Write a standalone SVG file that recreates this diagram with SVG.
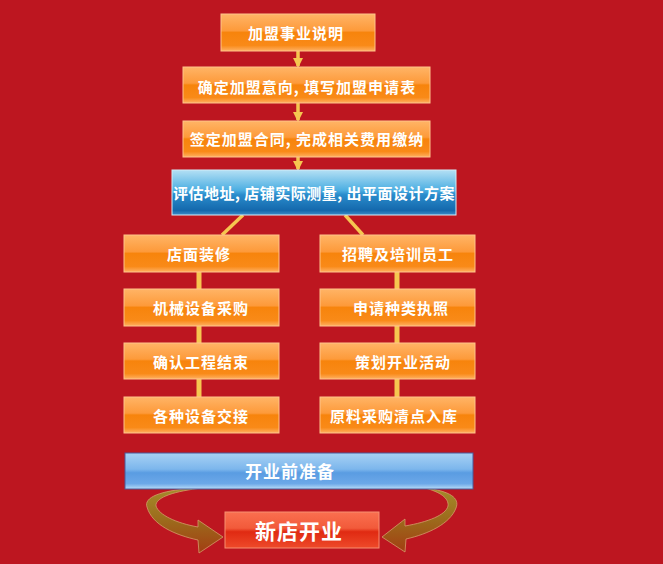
<svg xmlns="http://www.w3.org/2000/svg" width="663" height="564" viewBox="0 0 663 564">
<defs>
<linearGradient id="gOr" x1="0" y1="0" x2="0" y2="1">
<stop offset="0" stop-color="#FFB466"/>
<stop offset="0.45" stop-color="#FD9A3A"/>
<stop offset="0.5" stop-color="#F7840C"/>
<stop offset="0.85" stop-color="#F98A18"/>
<stop offset="1" stop-color="#FFB062"/>
</linearGradient>
<linearGradient id="gBl" x1="0" y1="0" x2="0" y2="1">
<stop offset="0" stop-color="#B4E0F4"/>
<stop offset="0.45" stop-color="#4CAEE2"/>
<stop offset="0.55" stop-color="#2A8CCC"/>
<stop offset="0.9" stop-color="#1468AC"/>
<stop offset="1" stop-color="#3C8CC8"/>
</linearGradient>
<linearGradient id="gBar" x1="0" y1="0" x2="0" y2="1">
<stop offset="0" stop-color="#A8D2F4"/>
<stop offset="0.45" stop-color="#7CB6EC"/>
<stop offset="0.55" stop-color="#5A9CE2"/>
<stop offset="0.85" stop-color="#6CA8E8"/>
<stop offset="1" stop-color="#B8DCF8"/>
</linearGradient>
<linearGradient id="gRd" x1="0" y1="0" x2="0" y2="1">
<stop offset="0" stop-color="#FA7050"/>
<stop offset="0.45" stop-color="#F25A3A"/>
<stop offset="0.55" stop-color="#E02A12"/>
<stop offset="1" stop-color="#EE4A2A"/>
</linearGradient>
<linearGradient id="gRib" x1="0" y1="0" x2="0" y2="1">
<stop offset="0" stop-color="#A48C2A"/>
<stop offset="0.5" stop-color="#9C6A1C"/>
<stop offset="1" stop-color="#A23E12"/>
</linearGradient>
<marker id="ah" viewBox="0 0 10 10" refX="8" refY="5" markerWidth="3" markerHeight="3" orient="auto" markerUnits="strokeWidth">
<path d="M0,0 L10,5 L0,10 Z" fill="#F6C650"/>
</marker>
<style>
.bo{fill:url(#gOr);stroke:#FFC48A;stroke-width:1}
.bb{fill:url(#gBl);stroke:#D0ECF8;stroke-width:1}
.t{font-family:"Noto Sans CJK SC","Liberation Sans",sans-serif;font-weight:bold;fill:#FFFFFF;font-size:15px;text-anchor:middle;dominant-baseline:central;letter-spacing:1px}
.ln{stroke:#F6C650;stroke-width:5;fill:none}
.lt{stroke:#F6C650;stroke-width:3.5;fill:none}
.rib{fill:url(#gRib);stroke:#D49A6A;stroke-width:0.8}
</style>
</defs>
<rect width="663" height="564" fill="#BD1620"/>
<g id="connectors">
<line class="lt" x1="298" y1="51" x2="298" y2="66" marker-end="url(#ah)"/>
<line class="lt" x1="298" y1="103" x2="298" y2="120" marker-end="url(#ah)"/>
<line class="lt" x1="298" y1="157" x2="298" y2="169" marker-end="url(#ah)"/>
<line class="lt" x1="243" y1="215" x2="222" y2="235"/>
<line class="lt" x1="345" y1="215" x2="363" y2="235"/>
<line class="ln" x1="199" y1="272" x2="199" y2="289"/>
<line class="ln" x1="199" y1="326" x2="199" y2="343"/>
<line class="ln" x1="199" y1="379" x2="199" y2="397"/>
<line class="ln" x1="397" y1="272" x2="397" y2="289"/>
<line class="ln" x1="397" y1="326" x2="397" y2="343"/>
<line class="ln" x1="397" y1="379" x2="397" y2="397"/>
<path class="rib" d="M 202,488 C 166,489 143,496 147,507 C 152,525 175,535 198,540 L 199,553 L 223,537 L 198,520 L 198,527 C 176,523 159,515 156,506 C 155,497 176,491 202,488 Z"/>
<path class="rib" d="M 425,488 C 450,491 460,498 456,508 C 450,524 428,534 406,539 L 405,552 L 382,537 L 405,519 L 405,526 C 428,522 446,515 448,506 C 449,498 440,492 425,488 Z"/>
</g>
<g id="n1"><rect class="bo" x="221" y="14" width="154" height="37"/><text class="t" x="296" y="32">加盟事业说明</text></g>
<g id="n2"><rect class="bo" x="183" y="67" width="247" height="36"/><text class="t" x="307" y="86">确定加盟意向, 填写加盟申请表</text></g>
<g id="n3"><rect class="bo" x="183" y="121" width="247" height="36"/><text class="t" x="307" y="138">签定加盟合同, 完成相关费用缴纳</text></g>
<g id="n4"><rect class="bb" x="172" y="170" width="284" height="45"/><text class="t" x="314" y="192" style="letter-spacing:0.5px">评估地址, 店铺实际测量, 出平面设计方案</text></g>
<g id="l1"><rect class="bo" x="124" y="235" width="155" height="37"/><text class="t" x="199" y="253">店面装修</text></g>
<g id="l2"><rect class="bo" x="124" y="289" width="155" height="37"/><text class="t" x="201" y="307">机械设备采购</text></g>
<g id="l3"><rect class="bo" x="124" y="343" width="155" height="36"/><text class="t" x="201" y="361">确认工程结束</text></g>
<g id="l4"><rect class="bo" x="124" y="397" width="155" height="36"/><text class="t" x="201" y="415">各种设备交接</text></g>
<g id="r1"><rect class="bo" x="320" y="235" width="155" height="37"/><text class="t" x="398" y="253">招聘及培训员工</text></g>
<g id="r2"><rect class="bo" x="320" y="289" width="155" height="37"/><text class="t" x="401" y="307">申请种类执照</text></g>
<g id="r3"><rect class="bo" x="320" y="343" width="155" height="36"/><text class="t" x="403" y="361">策划开业活动</text></g>
<g id="r4"><rect class="bo" x="320" y="397" width="155" height="36"/><text class="t" x="394" y="415">原料采购清点入库</text></g>
<g id="prep"><rect x="125" y="453" width="348" height="36" fill="url(#gBar)" stroke="#4A5A9A" stroke-width="1"/><text class="t" x="290" y="470" style="font-size:17px">开业前准备</text></g>
<g id="open"><rect x="225" y="512" width="154" height="36" fill="url(#gRd)" stroke="#F89070" stroke-width="1"/><text class="t" x="299" y="530" style="font-size:21px">新店开业</text></g>
</svg>
